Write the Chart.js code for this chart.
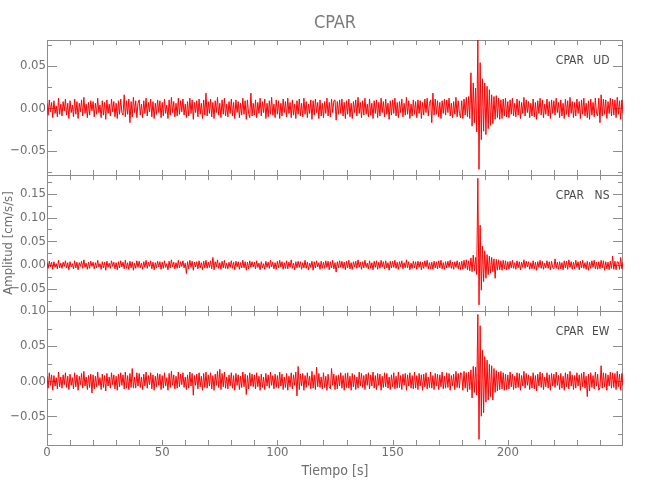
<!DOCTYPE html>
<html><head><meta charset="utf-8">
<script src="https://cdn.jsdelivr.net/npm/chart.js@4.4.1/dist/chart.umd.min.js"></script>
<style>
html,body{margin:0;padding:0;background:#fff;}
#wrap{position:relative;width:650px;height:500px;}
canvas{position:absolute;left:0;top:0;}
</style></head><body>
<div id="wrap">
<canvas id="c1" width="650" height="500"></canvas>
<canvas id="c2" width="650" height="500"></canvas>
<canvas id="c3" width="650" height="500"></canvas>
</div>
<script>
// ---------- data ----------
const station = 'CPAR';
const components = ['UD', 'NS', 'EW'];
const xTitle = 'Tiempo [s]';
const yTitle = 'Amplitud [cm/s/s]';
const dt = 0.5;            // sample spacing (s) of the values
const xTickLabels = [0, 50, 100, 150, 200];

const ud = [
.006,-.008,.010,-.004,.007,-.011,.009,-.006,.003,-.010,.012,-.007,.005,-.009,.008,-.003,.011,-.008,.006,-.012,
.009,-.005,.004,-.010,.011,-.007,.008,-.012,.006,-.004,.010,-.009,.013,-.006,.005,-.011,.007,-.008,.009,-.003,
.008,-.010,.006,-.007,.012,-.005,.004,-.011,.009,-.008,.007,-.013,.010,-.006,.005,-.009,.011,-.004,.008,-.010,
.006,-.012,.009,-.007,.011,-.005,-.008,.016,-.010,.009,-.007,.011,-.017,.008,-.010,.013,-.005,.009,-.011,.006,
.010,-.008,.005,-.011,.009,-.006,.012,-.009,.007,-.004,.011,-.010,.008,-.012,.006,-.007,.010,-.005,.009,-.011,
.007,-.009,.011,-.006,.004,-.012,.010,-.008,.013,-.005,.008,-.010,.006,-.009,.012,-.007,.009,-.004,.011,-.008,
.005,-.011,.008,-.009,.012,-.006,.010,-.013,.007,-.005,.009,-.010,.011,-.007,.006,-.012,.010,-.008,.018,-.009,
.008,-.006,.011,-.010,.007,-.012,.009,-.005,.013,-.008,.006,-.011,.010,-.007,.012,-.009,.005,-.010,.008,-.006,
.011,-.009,.007,-.012,.010,-.005,.008,-.011,.006,-.008,.012,-.007,.009,-.013,.010,-.006,-.011,.018,-.009,.006,
-.008,.010,-.011,.007,-.006,.012,-.009,.008,-.005,.011,-.012,.006,-.010,.009,-.007,.013,-.008,.005,-.011,.010,
-.007,.009,-.012,.006,-.009,.011,-.005,.008,-.010,.012,-.006,.007,-.011,.010,-.008,.005,-.012,.009,-.007,.011,
-.009,.006,-.010,.012,-.007,.008,-.011,.005,-.006,.010,-.013,.009,-.008,.011,-.005,.007,-.012,.010,-.009,.006,
-.011,.008,-.006,.012,-.009,.007,-.010,.011,-.005,.009,.010,-.014,.008,-.007,.010,-.006,.011,-.009,.007,-.012,
.009,-.007,.011,-.010,.006,-.012,.008,-.005,.010,-.009,.013,-.006,.007,-.011,.009,-.008,.012,-.007,.005,-.010,
.011,-.008,.006,-.012,.009,-.006,.010,-.011,.007,-.009,.012,-.005,.008,-.010,.011,-.007,.006,-.013,.009,-.008,
.010,-.006,.012,-.009,.007,-.011,.008,-.005,.011,-.010,.006,-.008,.013,-.007,.009,-.012,.005,-.009,.010,-.007,
.008,-.011,.010,-.006,.009,-.012,.007,-.008,.011,-.005,.012,-.009,.006,.010,-.017,.018,-.008,.011,-.007,.009,
-.010,.007,-.012,.009,-.006,.011,-.008,.010,-.005,.012,-.009,.006,-.011,.008,-.007,.013,-.010,.009,-.006,-.011,
.009,-.012,.011,-.008,.013,-.010,.014,-.012,.042,-.021,.030,-.017,.024,-.028,.081,-.072,.054,-.037,.035,-.027,
.030,-.031,.026,-.024,.022,-.020,.016,-.018,.014,-.013,.015,-.011,.012,-.013,.010,-.012,.011,-.009,.012,-.010,
.008,-.011,.010,-.007,.012,-.009,.006,-.010,.011,-.008,.009,-.012,.007,-.006,.013,-.009,.010,-.005,.008,-.011,
.006,-.009,.011,-.010,.007,-.013,.009,-.006,.012,-.008,.010,-.011,.005,-.007,.011,-.009,.008,-.012,.010,-.006,
.009,-.008,.012,-.005,.007,-.011,.010,-.009,.006,-.012,.011,-.007,.009,-.010,.013,-.006,.008,-.011,.007,-.009,
.011,-.006,.008,-.012,.010,-.007,.012,-.009,.006,-.011,.009,-.013,.011,-.008,.007,-.010,.012,-.006,-.009,.012,
-.017,.016,-.009,.011,-.007,.010,-.012,.008,-.006,.012,-.009,.011,-.008,.010,-.011,.013,-.007,.009,-.013,.010,
-.006];

const ns = [
.005,-.007,.008,-.004,.006,-.009,.007,-.005,.003,-.008,.010,-.006,.004,-.007,.006,-.003,.009,-.006,.005,-.010,
.007,-.004,.003,-.008,.009,-.006,.006,-.010,.005,-.003,.008,-.007,.011,-.005,.004,-.009,.006,-.007,.008,-.003,
.006,-.008,.005,-.006,.010,-.004,.003,-.009,.007,-.006,.006,-.011,.008,-.005,.004,-.007,.009,-.003,.006,-.008,
.005,-.010,.007,-.006,.009,-.004,.006,-.008,.010,-.007,.005,-.009,.008,-.006,.007,-.011,.004,-.007,.009,-.005,
.008,-.006,.004,-.009,.007,-.005,.010,-.007,.006,-.003,.009,-.008,.006,-.010,.005,-.006,.008,-.004,.007,-.009,
.006,-.007,.009,-.005,.003,-.010,.008,-.006,.011,-.004,.006,-.008,.005,-.007,.010,-.006,.007,-.003,.009,-.006,
.004,-.018,.007,-.008,.010,-.005,.008,-.011,.006,-.004,.007,-.008,.009,-.006,.005,-.010,.008,-.006,.010,-.007,
.006,-.005,.009,-.008,.016,-.010,.007,-.004,.011,-.007,.005,-.009,.008,-.006,.010,-.007,.004,-.008,.006,-.005,
.009,-.007,.006,-.010,.008,-.004,.007,-.009,.005,-.006,.010,-.006,.007,-.011,.006,-.008,.009,-.005,.007,-.004,
.006,-.008,.009,-.005,.004,-.010,.007,-.006,.003,-.009,.008,-.005,.006,-.007,.010,-.004,.006,-.008,.005,-.009,
.008,-.006,.010,-.004,.007,-.009,.005,-.007,.009,-.008,.006,-.005,.011,-.007,.004,-.010,.007,-.006,.008,-.005,
.007,-.009,.005,-.006,.010,-.007,.006,-.010,.004,-.005,.008,-.011,.007,-.006,.009,-.004,.005,-.009,.008,-.007,
.006,-.007,.009,-.005,.008,-.010,.007,-.006,.010,-.008,.005,-.015,.007,-.006,.009,-.005,.008,-.007,.006,-.010,
.008,-.006,.010,-.008,.005,-.009,.007,-.004,.008,-.007,.011,-.005,.006,-.009,.007,-.006,.010,-.005,.004,-.008,
.009,-.007,.005,-.010,.008,-.005,.009,-.009,.006,-.007,.010,-.004,.007,-.008,.009,-.006,.005,-.011,.008,-.006,
.008,-.005,.010,-.007,.006,-.009,.007,-.004,.009,-.008,.005,-.006,.011,-.006,.007,-.010,.004,-.007,.008,-.006,
.007,-.009,.008,-.005,.007,-.010,.006,-.007,.009,-.004,.010,-.008,.005,-.008,.006,-.009,.008,-.006,.007,-.008,
.009,-.006,.010,-.008,.005,-.009,.007,-.006,.008,-.005,.010,-.007,.006,-.009,.007,-.005,.009,-.008,.006,-.010,
.008,-.009,.010,-.007,.011,-.010,.009,-.012,.015,-.014,.021,-.012,.016,-.020,.183,-.084,.084,-.053,.040,-.035,
.030,-.028,.022,-.020,.019,-.017,.016,-.014,.013,-.028,.012,-.011,.011,-.010,.009,-.011,.010,-.008,.009,-.010,
.007,-.009,.008,-.006,.010,-.007,.005,-.009,.009,-.006,.007,-.010,.006,-.005,.011,-.007,.008,-.004,.007,-.009,
.005,-.008,.009,-.008,.006,-.011,.007,-.005,.010,-.007,.008,-.009,.004,-.006,.009,-.007,.007,-.010,.008,-.005,
-.008,.013,-.007,.006,-.009,.007,-.008,.005,-.010,.009,-.006,.008,-.009,.011,-.005,.007,-.009,.006,-.008,.010,
-.005,.007,-.010,.008,-.006,.010,-.007,.005,-.009,.008,-.011,.006,-.007,.009,-.005,.010,-.008,.006,-.009,.007,
-.008,.010,-.006,.009,-.011,.007,-.008,.006,-.010,.008,-.007,.019,-.009,.008,-.010,.007,.006,-.009,.016,-.008,
.006];

const ew = [
.007,-.010,.012,-.006,.009,-.013,.008,-.007,.005,-.011,.013,-.008,.006,-.010,.009,-.005,.012,-.009,.007,-.012,
.010,-.006,.005,-.011,.012,-.008,.009,-.013,.007,-.005,.011,-.010,.014,-.007,.006,-.012,.008,-.009,.010,-.017,
.009,-.011,.007,-.008,.013,-.006,.005,-.012,.010,-.009,.008,-.014,.011,-.007,.006,-.010,.012,-.005,.009,-.011,
.007,-.013,.010,-.008,.012,-.006,.009,-.011,.013,-.010,.008,-.012,.011,-.009,.018,-.010,.006,-.010,.012,-.007,
.011,-.009,.006,-.012,.010,-.007,.013,-.010,.008,-.005,.012,-.011,.009,-.013,.007,-.008,.011,-.006,.010,-.012,
.008,-.010,.012,-.007,.005,-.013,.011,-.009,.014,-.006,.009,-.011,.007,-.010,.013,-.008,.010,-.005,.012,-.009,
.006,-.012,.009,-.010,.013,-.007,.011,-.020,.008,-.006,.010,-.011,.012,-.008,.007,-.013,.011,-.009,.013,-.010,
.009,-.007,.012,-.011,.008,-.013,.010,-.006,.014,-.009,.017,-.012,.011,-.008,.013,-.010,.006,-.011,.009,-.007,
.012,-.010,.008,-.013,.011,-.006,.009,-.012,.007,-.009,.013,-.008,.010,-.019,.008,-.011,.012,-.007,.010,-.008,
.009,-.011,.012,-.008,.007,-.013,.010,-.009,.006,-.012,.011,-.007,.009,-.010,.013,-.006,.008,-.011,.010,-.009,
.008,-.010,.013,-.007,.010,-.012,.006,-.009,.011,-.013,.007,-.008,.012,-.011,.009,-.006,.013,-.021,.021,-.012,
.010,-.007,.011,-.013,.008,-.009,.012,-.006,.007,-.011,.014,-.010,.009,-.012,.020,-.008,.011,-.009,.006,-.011,
.012,-.009,.007,-.013,.010,-.008,-.011,.018,-.006,.010,-.012,.008,-.011,.009,-.007,.012,-.010,.008,-.013,.011,
-.009,.012,-.010,.007,-.013,.011,-.008,.009,-.012,.006,-.010,.013,-.007,.011,-.009,.008,-.012,.010,-.006,.012,
-.011,.009,-.007,.013,-.010,.008,-.012,.011,-.006,.010,-.013,.007,-.009,.012,-.008,.011,-.010,.006,-.012,.009,
-.008,.012,-.011,.007,-.010,.013,-.009,.008,-.012,.010,-.006,.011,-.013,.009,-.007,.012,-.010,.008,-.011,.013,
-.010,.008,-.012,.011,-.007,.009,-.013,.010,-.008,.012,-.011,.006,-.009,.013,-.010,.008,-.012,.011,-.007,.010,
-.012,.009,-.008,.013,-.011,.007,-.010,.012,-.009,.011,-.013,.008,-.007,.010,-.012,.014,-.009,.011,-.010,.012,
.011,-.013,.014,-.010,.012,-.015,.013,-.012,.016,-.024,.021,-.016,.020,-.020,.095,-.083,.079,-.050,.044,-.045,
.035,-.030,.030,-.027,.024,-.022,.022,-.027,.018,-.016,.015,-.014,.013,-.012,.014,-.011,.012,-.013,.010,-.012,
.009,-.011,.013,-.008,.010,-.012,.007,-.010,.012,-.009,.011,-.013,.008,-.007,.014,-.010,.011,-.006,.009,-.012,
.007,-.010,.012,-.011,.008,-.014,.010,-.007,.013,-.009,.011,-.012,.006,-.008,.012,-.010,.009,-.013,.011,-.007,
.010,-.009,.013,-.006,.008,-.012,.011,-.010,.007,-.013,.012,-.008,.010,-.011,.014,-.007,.009,-.012,.008,-.010,
.012,-.007,.009,-.013,.011,-.008,.013,-.010,.007,-.022,.010,-.014,.012,-.009,.008,-.011,.013,-.007,.010,-.013,
-.009,.022,-.010,.012,-.008,.011,-.013,.009,-.007,.013,-.010,.012,-.009,.011,-.012,.014,-.008,.010,-.013,.011,
-.007];

// axis ranges of each panel (cm/s/s) and time range (s)
const udRange = [-0.0787, 0.0807];
const nsRange = [-0.0970, 0.1900];
const ewRange = [-0.0910, 0.1000];
const timeRange = [0, 250];

// ---------- styling ----------
const FONT = "'DejaVu Sans Condensed', 'DejaVu Sans', sans-serif";
const FRAME = '#8c8c8c';
const TICKTXT = '#6e6e6e';
const LABELTXT = '#4a4a4a';
Chart.defaults.font.family = FONT;

const fmtY = v => (v < -1e-9 ? '\u2212' : '') + Math.abs(v).toFixed(2);

const frameTicks = {
  id: 'frameTicks',
  beforeDatasetsDraw(chart) {
    const {ctx, chartArea: a, scales: {x, y}} = chart;
    ctx.save();
    ctx.strokeStyle = FRAME;
    ctx.lineWidth = 1;
    ctx.strokeRect(a.left + 0.5, a.top + 0.5, a.right - a.left - 1, a.bottom - a.top);
    ctx.beginPath();
    for (let v = 10; v < x.max; v += 10) {
      const px = Math.round(x.getPixelForValue(v)) + 0.5;
      ctx.moveTo(px, a.top); ctx.lineTo(px, a.top + 5);
      ctx.moveTo(px, a.bottom); ctx.lineTo(px, a.bottom - 5);
    }
    const step = 0.025;
    const k0 = Math.ceil(y.min / step - 1e-6), k1 = Math.floor(y.max / step + 1e-6);
    for (let k = k0; k <= k1; k++) {
      const py = Math.round(y.getPixelForValue(k * step)) + 0.5;
      const len = (k % 2 === 0) ? 10 : 5;
      ctx.moveTo(a.left, py); ctx.lineTo(a.left + len, py);
      ctx.moveTo(a.right, py); ctx.lineTo(a.right - len, py);
    }
    ctx.stroke();
    ctx.restore();
  },
  afterDraw(chart, args, opts) {
    const {ctx, chartArea: a} = chart;
    ctx.save();
    ctx.fillStyle = LABELTXT;
    ctx.font = '12px ' + FONT;
    ctx.textBaseline = 'middle';
    ctx.textAlign = 'right';
    ctx.fillText(station, a.right - 39, a.top + 21);
    ctx.fillText(opts.component, a.right - 13.5, a.top + 21);
    ctx.restore();
  }
};

function makeChart(id, values, range, comp, pad, opt) {
  const pts = values.map((v, i) => ({x: i * dt, y: v}));
  const xScale = {
    type: 'linear', min: timeRange[0], max: timeRange[1], display: !!opt.xAxis,
    grid: {display: false, drawTicks: false}, border: {display: false},
    ticks: {color: TICKTXT, font: {size: 13}, padding: 0, maxRotation: 0, callback: v => String(v)},
    afterBuildTicks: s => { s.ticks = xTickLabels.map(v => ({value: v})); },
    title: {display: !!opt.xAxis, text: xTitle, color: TICKTXT, font: {size: 14}, padding: {top: 0, bottom: 0}}
  };
  if (opt.xAxis) xScale.afterFit = s => { s.height = 35; };
  return new Chart(document.getElementById(id), {
    type: 'line',
    data: {datasets: [{data: pts, borderColor: '#ff0000', borderWidth: 1, pointRadius: 0, tension: 0, fill: false}]},
    options: {
      responsive: false, animation: false, devicePixelRatio: 1,
      layout: {padding: pad},
      plugins: {
        legend: {display: false}, tooltip: {enabled: false},
        title: opt.title ? {display: true, text: station, color: '#7a7a7a', fullSize: false,
          font: {size: 18, weight: 'normal', family: FONT}, padding: {top: 12.5, bottom: 5.9}} : {display: false},
        frameTicks: {component: comp}
      },
      scales: {
        x: xScale,
        y: {
          type: 'linear', min: range[0], max: range[1],
          grid: {display: false, drawTicks: false}, border: {display: false},
          ticks: {stepSize: 0.05, includeBounds: false, color: TICKTXT, font: {size: 13}, padding: 1, callback: fmtY, autoSkip: false},
          title: {display: !!opt.yTitle, text: yTitle, color: TICKTXT, font: {size: 13}, padding: {top: 1, bottom: 0}},
          afterFit: s => { s.width = 47; }
        }
      }
    },
    plugins: [frameTicks]
  });
}

makeChart('c1', ud, udRange, components[0], {left: 0, right: 27, top: 0, bottom: 325}, {title: true});
makeChart('c2', ns, nsRange, components[1], {left: 0, right: 27, top: 175, bottom: 189}, {yTitle: true});
makeChart('c3', ew, ewRange, components[2], {left: 0, right: 27, top: 311, bottom: 20}, {xAxis: true});
</script>
</body></html>
